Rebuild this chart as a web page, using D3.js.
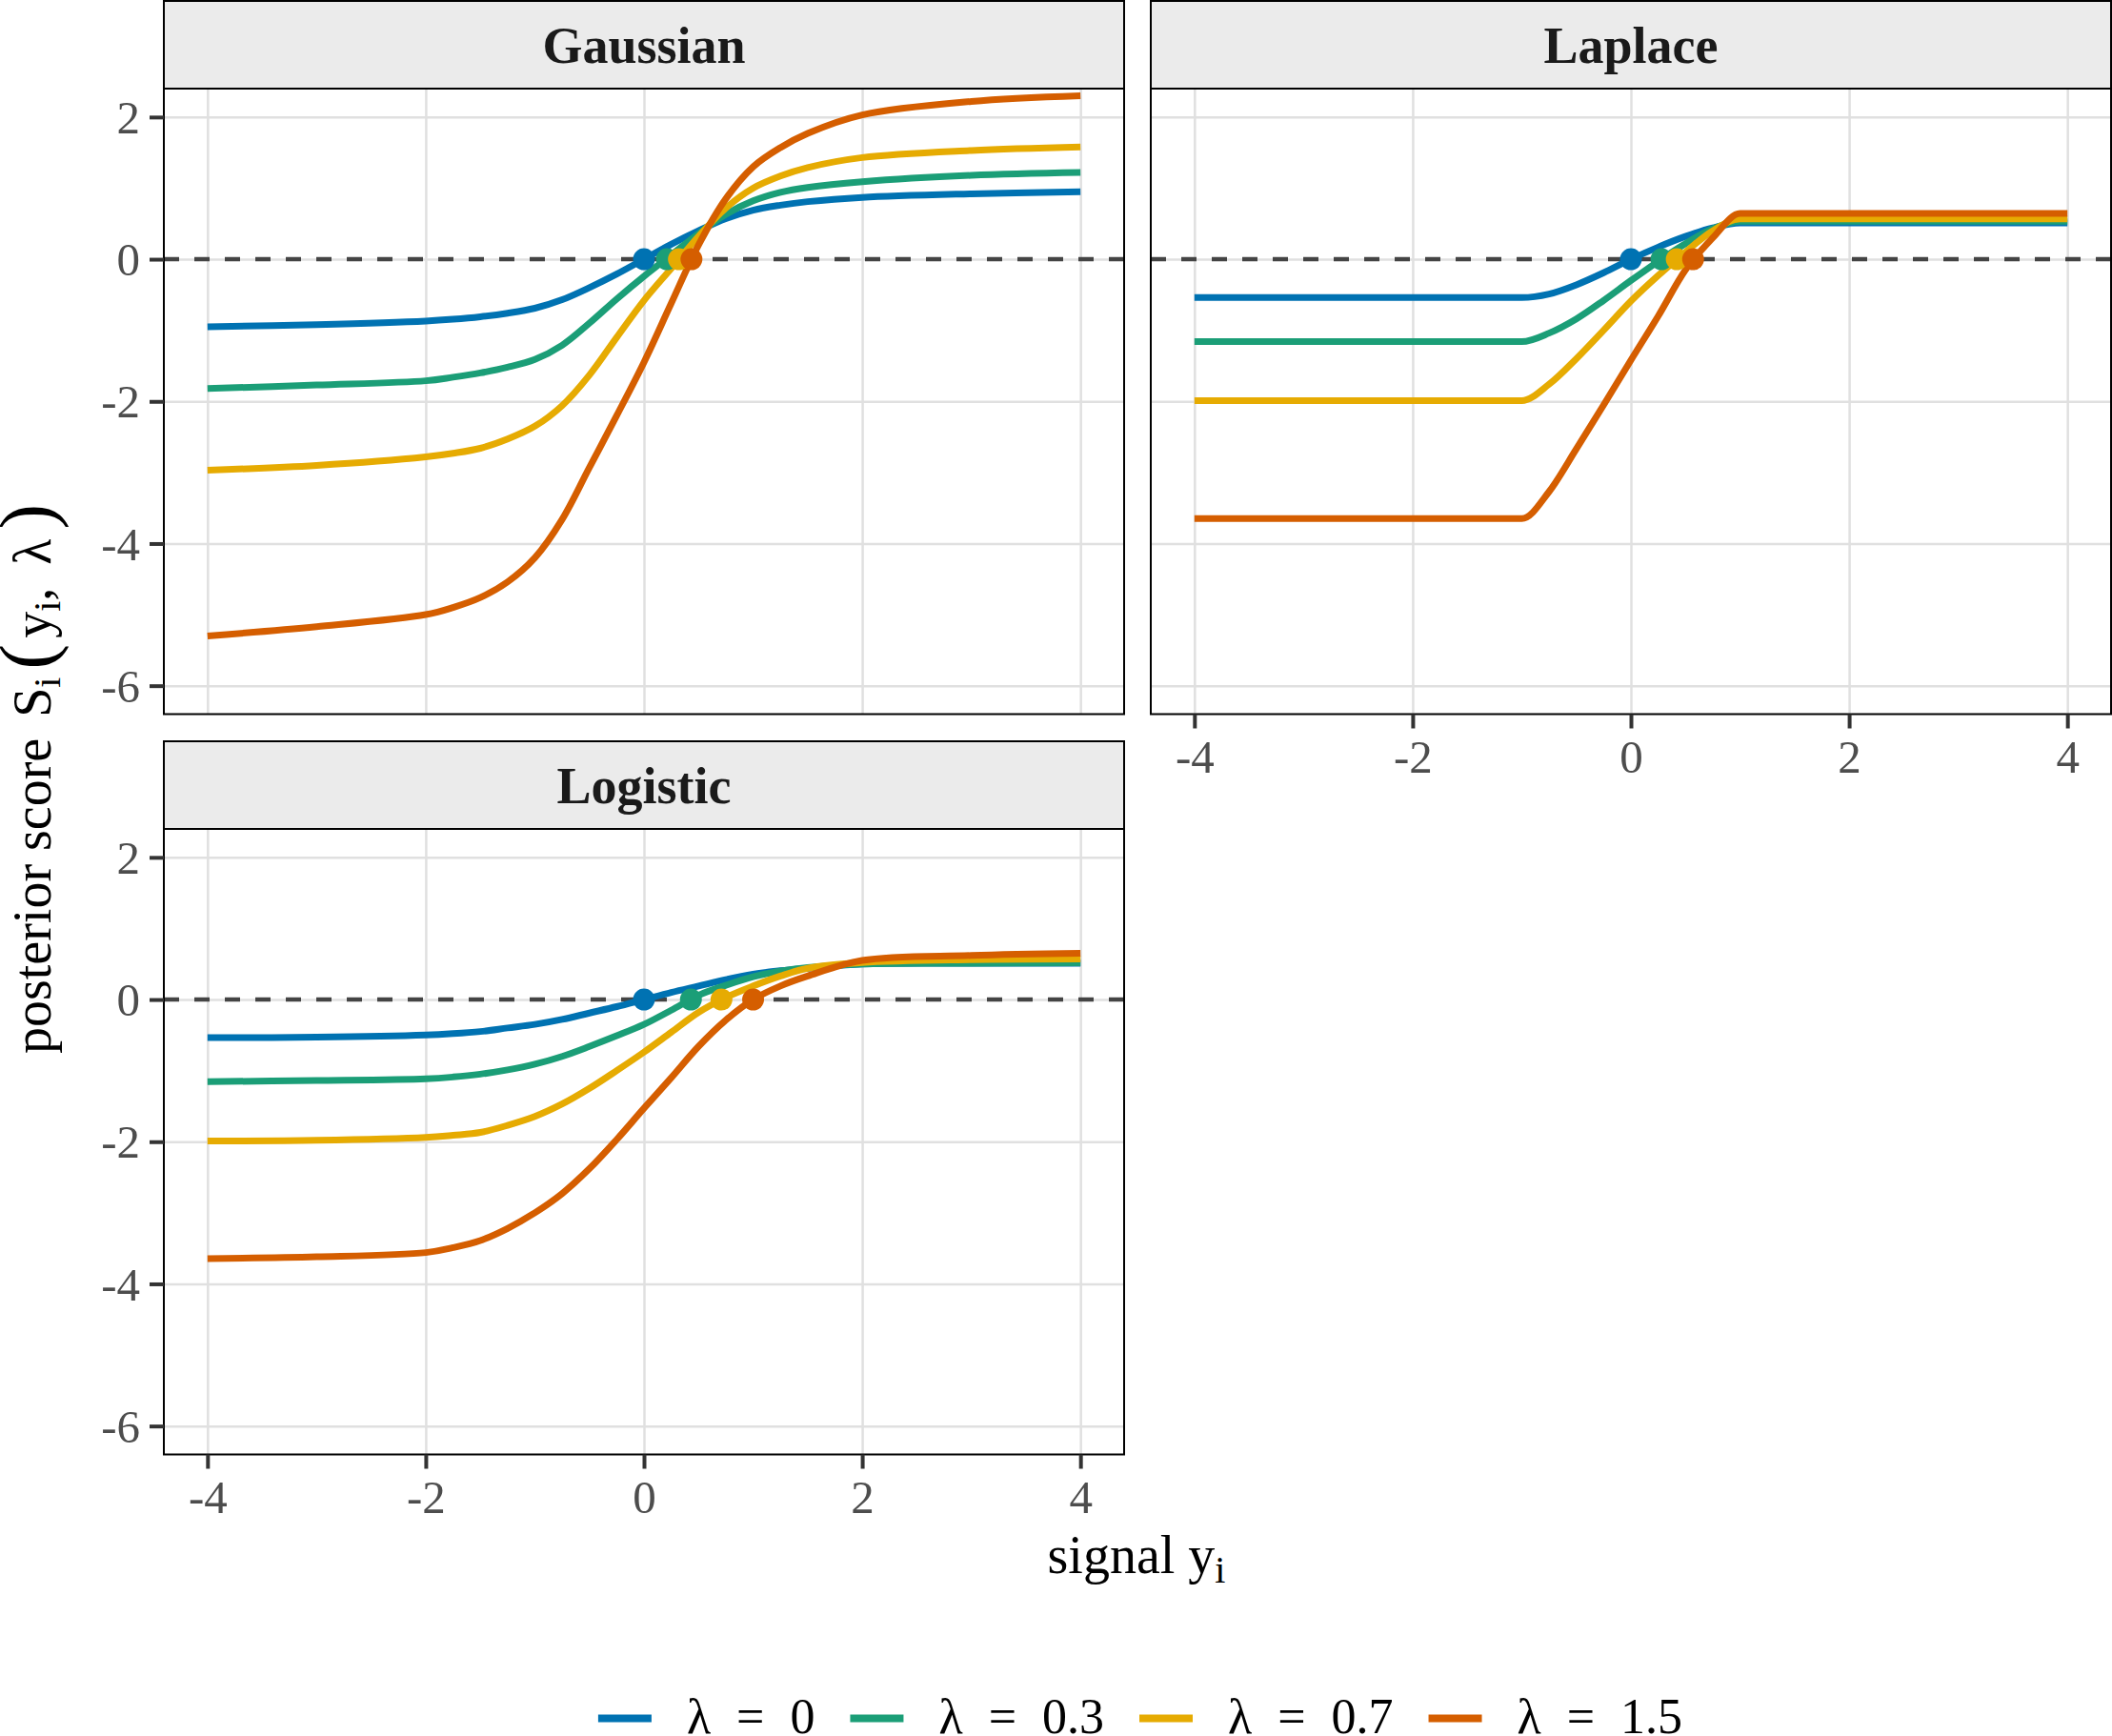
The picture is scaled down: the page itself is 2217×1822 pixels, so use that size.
<!DOCTYPE html>
<html>
<head>
<meta charset="utf-8">
<script src="https://cdn.jsdelivr.net/npm/d3@7"></script>
<style>
  body { margin: 0; background: #fff; }
  text { font-family: "Liberation Serif", "Times New Roman", serif; }
</style>
</head>
<body>
<div id="chart"></div>
<script>
const xs = [-4, -3, -2, -1.75, -1.5, -1.25, -1, -0.75, -0.5, -0.25, 0, 0.25, 0.5, 0.75, 1, 1.25, 1.5, 2, 3, 4];

const lambdas = ["0", "0.3", "0.7", "1.5"];
const colors = ["#0072B2", "#1B9E77", "#E6AB02", "#D55E00"];

// Gaussian prior
const gauss0  = [-0.95, -0.92, -0.87, -0.845, -0.81, -0.76, -0.69, -0.57, -0.40, -0.21, 0, 0.21, 0.40, 0.57, 0.69, 0.76, 0.81, 0.87, 0.92, 0.95];
const gauss03 = [-1.82, -1.77, -1.71, -1.66, -1.60, -1.52, -1.41, -1.21, -0.90, -0.56, -0.24, 0.06, 0.36, 0.63, 0.82, 0.94, 1.01, 1.09, 1.18, 1.22];
const gauss07 = [-2.97, -2.90, -2.78, -2.73, -2.66, -2.53, -2.35, -2.06, -1.63, -1.10, -0.58, -0.13, 0.32, 0.72, 1.00, 1.17, 1.29, 1.43, 1.53, 1.58];
const gauss15 = [-5.30, -5.17, -5.00, -4.90, -4.76, -4.54, -4.20, -3.66, -2.93, -2.20, -1.45, -0.62, 0.20, 0.85, 1.30, 1.57, 1.77, 2.03, 2.22, 2.30];
const gaussRoots = [0, 0.21, 0.32, 0.435];

// Laplace prior
const lap0  = [-0.54, -0.54, -0.54, -0.54, -0.54, -0.54, -0.54, -0.49, -0.36, -0.19, 0, 0.17, 0.32, 0.44, 0.51, 0.51, 0.51, 0.51, 0.51, 0.51];
const lap03 = [-1.16, -1.16, -1.16, -1.16, -1.16, -1.16, -1.16, -1.04, -0.84, -0.58, -0.30, -0.03, 0.22, 0.43, 0.535, 0.535, 0.535, 0.535, 0.535, 0.535];
const lap07 = [-1.99, -1.99, -1.99, -1.99, -1.99, -1.99, -1.99, -1.76, -1.40, -1.00, -0.59, -0.23, 0.10, 0.40, 0.567, 0.567, 0.567, 0.567, 0.567, 0.567];
const lap15 = [-3.65, -3.65, -3.65, -3.65, -3.65, -3.65, -3.65, -3.27, -2.67, -2.05, -1.42, -0.80, -0.15, 0.30, 0.643, 0.643, 0.643, 0.643, 0.643, 0.643];
const lapRoots = [0, 0.28, 0.42, 0.57];

// Logistic prior
const logi0  = [-0.535, -0.53, -0.50, -0.48, -0.45, -0.40, -0.35, -0.28, -0.19, -0.10, 0, 0.10, 0.19, 0.28, 0.355, 0.405, 0.44, 0.50, 0.51, 0.51];
const logi03 = [-1.155, -1.14, -1.115, -1.09, -1.05, -0.99, -0.91, -0.80, -0.66, -0.51, -0.35, -0.15, 0.06, 0.20, 0.32, 0.40, 0.45, 0.50, 0.51, 0.515];
const logi07 = [-1.99, -1.98, -1.94, -1.91, -1.87, -1.77, -1.645, -1.47, -1.25, -1.00, -0.74, -0.46, -0.18, 0.03, 0.19, 0.33, 0.44, 0.52, 0.56, 0.57];
const logi15 = [-3.645, -3.62, -3.56, -3.49, -3.39, -3.22, -3.00, -2.73, -2.38, -1.97, -1.53, -1.10, -0.66, -0.29, 0, 0.19, 0.33, 0.55, 0.62, 0.65];
const logiRoots = [0, 0.43, 0.71, 1.0];

const xTicks = [-4, -2, 0, 2, 4];
const yTicks = [-6, -4, -2, 0, 2];

const smooth = d3.curveCatmullRom.alpha(0.5);
const panels = [
  { name: "Gaussian", col: 0, row: 0, series: [gauss0, gauss03, gauss07, gauss15], roots: gaussRoots, curve: smooth,            yAxis: true,  xAxis: false },
  { name: "Laplace",  col: 1, row: 0, series: [lap0, lap03, lap07, lap15],       roots: lapRoots,   curve: d3.curveMonotoneX, yAxis: false, xAxis: true },
  { name: "Logistic", col: 0, row: 1, series: [logi0, logi03, logi07, logi15],   roots: logiRoots,  curve: smooth,            yAxis: true,  xAxis: true }
];

const W = 2217, H = 1822;
const colX = [172, 1208];
const rowTop = [1, 778];
const panelW = 1008, panelH = 656.5, stripH = 92;

const svg = d3.select("#chart")
  .append("svg")
  .attr("width", W)
  .attr("height", H);

svg.append("rect").attr("width", W).attr("height", H).attr("fill", "#fff");

const x = d3.scaleLinear().domain([-4.4, 4.4]).range([0, panelW]);
const y = d3.scaleLinear().domain([-6.4, 2.4]).range([panelH, 0]);

panels.forEach(p => {
  const left = colX[p.col], top = rowTop[p.row];

  // strip
  const strip = svg.append("g").attr("transform", `translate(${left},${top})`);
  strip.append("rect")
    .attr("width", panelW).attr("height", stripH)
    .attr("fill", "#ebebeb").attr("stroke", "#000").attr("stroke-width", 2);
  strip.append("text")
    .attr("x", panelW / 2).attr("y", stripH / 2)
    .attr("dy", "0.35em")
    .attr("text-anchor", "middle")
    .attr("font-size", 54).attr("font-weight", "bold").attr("fill", "#1a1a1a")
    .text(p.name);

  const g = svg.append("g").attr("transform", `translate(${left},${top + stripH})`);

  // grid
  g.append("g")
    .attr("transform", `translate(0,${panelH})`)
    .call(d3.axisBottom(x).tickValues(xTicks).tickSize(panelH).tickFormat(""))
    .call(a => a.select(".domain").remove())
    .call(a => a.selectAll("line").attr("y2", -panelH).attr("stroke", "#e0e0e0").attr("stroke-width", 2.5));
  g.append("g")
    .call(d3.axisLeft(y).tickValues(yTicks).tickSize(-panelW).tickFormat(""))
    .call(a => a.select(".domain").remove())
    .call(a => a.selectAll("line").attr("stroke", "#e0e0e0").attr("stroke-width", 2.5));

  // zero reference
  g.append("line")
    .attr("x1", 0).attr("x2", panelW)
    .attr("y1", y(0)).attr("y2", y(0))
    .attr("stroke", "#444").attr("stroke-width", 4.5)
    .attr("stroke-dasharray", "16 16");

  const line = d3.line()
    .x(d => x(d[0]))
    .y(d => y(d[1]))
    .curve(p.curve);

  p.series.forEach((vals, i) => {
    g.append("path")
      .datum(xs.map((v, j) => [v, vals[j]]))
      .attr("fill", "none")
      .attr("stroke", colors[i])
      .attr("stroke-width", 7)
      .attr("d", line);
  });

  g.selectAll("circle.root")
    .data(p.roots)
    .enter()
    .append("circle")
    .attr("class", "root")
    .attr("cx", d => x(d))
    .attr("cy", y(0))
    .attr("r", 11.5)
    .attr("fill", (d, i) => colors[i]);

  g.append("rect")
    .attr("width", panelW).attr("height", panelH)
    .attr("fill", "none").attr("stroke", "#000").attr("stroke-width", 2);

  if (p.yAxis) {
    g.append("g")
      .call(d3.axisLeft(y).tickValues(yTicks).tickSize(15).tickPadding(10).tickFormat(d => String(d)))
      .call(a => a.select(".domain").remove())
      .call(a => a.selectAll("line").attr("stroke", "#333").attr("stroke-width", 4))
      .call(a => a.selectAll("text").attr("font-size", 49).attr("fill", "#4d4d4d")
        .attr("font-family", "Liberation Serif").attr("dy", "0.34em"));
  }
  if (p.xAxis) {
    g.append("g")
      .attr("transform", `translate(0,${panelH})`)
      .call(d3.axisBottom(x).tickValues(xTicks).tickSize(15).tickPadding(12).tickFormat(d => String(d)))
      .call(a => a.select(".domain").remove())
      .call(a => a.selectAll("line").attr("stroke", "#333").attr("stroke-width", 4))
      .call(a => a.selectAll("text").attr("font-size", 49).attr("fill", "#4d4d4d")
        .attr("font-family", "Liberation Serif").attr("dy", "0.71em"));
  }
});

// x title
const xt = svg.append("text")
  .attr("x", 1193).attr("y", 1651)
  .attr("text-anchor", "middle")
  .attr("font-size", 56).attr("fill", "#000");
xt.append("tspan").text("signal y");
xt.append("tspan").attr("font-size", 40).attr("dy", 10).text("i");

// y title, pinned at the start of "posterior"
const yt = svg.append("text")
  .attr("transform", "translate(53,1106) rotate(-90)")
  .attr("text-anchor", "start")
  .attr("font-size", 56).attr("fill", "#000");
yt.append("tspan").text("posterior score");
yt.append("tspan").attr("dx", 22).text("S");
yt.append("tspan").attr("font-size", 40).attr("dy", 10).text("i");
yt.append("tspan").attr("font-size", 80).attr("dy", -8).attr("dx", 8).text("(");
yt.append("tspan").attr("dx", 6).attr("dy", -2).text("y");
yt.append("tspan").attr("font-size", 40).attr("dy", 10).text("i");
yt.append("tspan").attr("dy", -10).text(",");
yt.append("tspan").attr("dx", 24).text("λ");
yt.append("tspan").attr("font-size", 80).attr("dx", 10).attr("dy", 2).text(")");

// legend
const legend = svg.append("g");
let cursor = 0;
lambdas.forEach((lam, i) => {
  legend.append("line")
    .attr("x1", cursor).attr("x2", cursor + 56)
    .attr("y1", 1803.5).attr("y2", 1803.5)
    .attr("stroke", colors[i]).attr("stroke-width", 8);
  const t = legend.append("text")
    .attr("x", cursor + 93).attr("y", 1819)
    .attr("font-size", 52).attr("fill", "#000")
    .attr("word-spacing", 14)
    .text(`λ = ${lam}`);
  cursor += 93 + t.node().getComputedTextLength() + 37;
});
const legendW = cursor - 37;
legend.attr("transform", `translate(${1197 - legendW / 2},0)`);
</script>
</body>
</html>
